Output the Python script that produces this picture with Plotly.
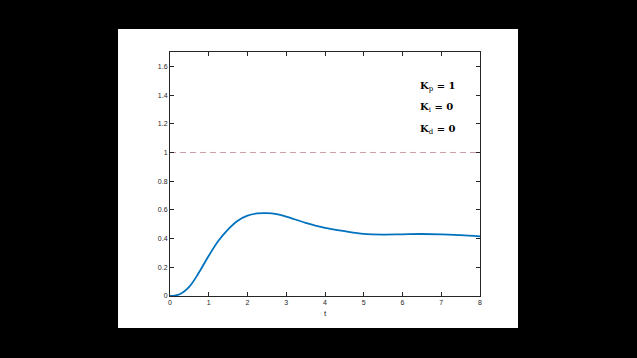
import plotly.graph_objects as go

# Step response
t_vals = [0, 0.25, 0.5, 0.75, 1.0, 1.25, 1.5, 1.75, 2.0, 2.25, 2.5, 2.75, 3.0,
          3.5, 4.0, 4.5, 5.0, 5.5, 6.0, 6.5, 7.0, 7.5, 8.0]
y_vals = [0, 0.012, 0.065, 0.165, 0.28, 0.385, 0.465, 0.525, 0.56, 0.575, 0.577, 0.57, 0.553,
          0.51, 0.475, 0.452, 0.433, 0.428, 0.43, 0.432, 0.43, 0.424, 0.416]

ref_t = [0, 8]
ref_y = [1, 1]

x_ticks = [0, 1, 2, 3, 4, 5, 6, 7, 8]
y_ticks = [0, 0.2, 0.4, 0.6, 0.8, 1.0, 1.2, 1.4, 1.6]
y_tick_labels = ["0", "0.2", "0.4", "0.6", "0.8", "1", "1.2", "1.4", "1.6"]

gains = [("p", 1), ("i", 0), ("d", 0)]
gain_y = [1.458, 1.312, 1.158]

fig = go.Figure()
fig.add_trace(go.Scatter(x=ref_t, y=ref_y, mode="lines",
                         line=dict(color="rgba(150,60,70,0.5)", width=1, dash="6px,4px"),
                         hoverinfo="skip", showlegend=False))
fig.add_trace(go.Scatter(x=t_vals, y=y_vals, mode="lines",
                         line=dict(color="#0072BD", width=1.8, shape="spline", smoothing=1.0),
                         showlegend=False))

for (sub, val), gy in zip(gains, gain_y):
    fig.add_annotation(x=6.4, y=gy, xref="x", yref="y", xanchor="left", yanchor="middle",
                       showarrow=False,
                       text=f"<b>K</b><sub>{sub}</sub><b> = {val}</b>",
                       font=dict(family="DejaVu Serif", size=10, color="#000000"))

fig.add_shape(type="rect", xref="paper", yref="paper",
              x0=-0.1677, x1=1.1226, y0=-0.131, y1=1.094,
              fillcolor="white", line=dict(width=0), layer="below")

axis_common = dict(showgrid=False, zeroline=False, showline=True, linecolor="#262626",
                   linewidth=1, mirror="ticks", ticks="inside", ticklen=4, tickwidth=1,
                   tickcolor="#262626",
                   tickfont=dict(family="Liberation Sans", size=7, color="#262626"))

fig.update_xaxes(range=[0, 8], tickvals=x_ticks, title=dict(text="t", standoff=4,
                 font=dict(family="Liberation Sans", size=8, color="#262626")), **axis_common)
fig.update_yaxes(range=[0, 1.7], tickvals=y_ticks, ticktext=y_tick_labels, **axis_common)

fig.update_layout(width=637, height=358, paper_bgcolor="black", plot_bgcolor="white",
                  margin=dict(l=170, r=157, t=52, b=62))

fig.write_html("out.html")
